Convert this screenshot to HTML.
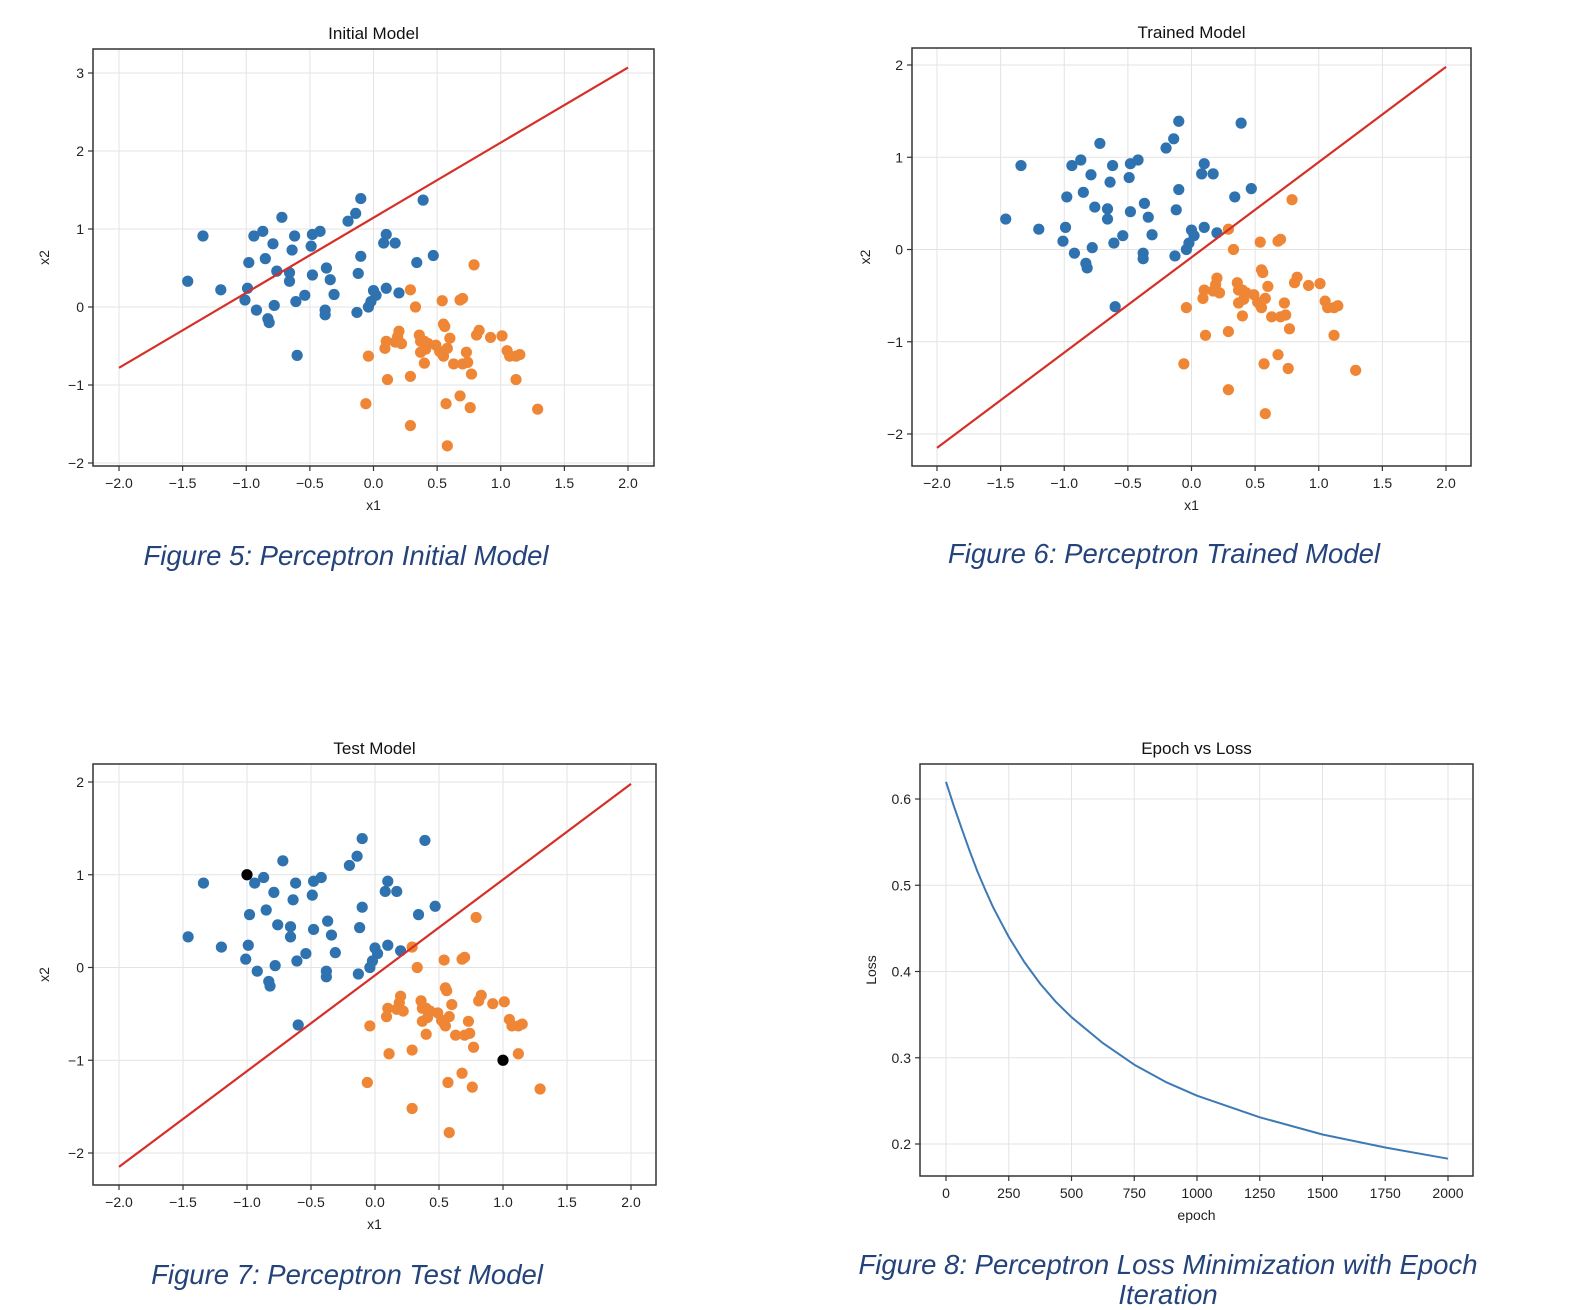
<!DOCTYPE html>
<html><head><meta charset="utf-8"><style>
body{margin:0;background:#fff;width:1592px;height:1310px;overflow:hidden;font-family:"Liberation Sans","DejaVu Sans",sans-serif}
svg{position:absolute;left:0;top:0}
.cap{position:absolute;font-style:italic;color:#24437a;font-size:27.5px;text-align:center;line-height:30px}
</style></head><body>
<svg id="chart" width="1592" height="1310"></svg>
<div class="cap" style="left:46px;width:600px;top:541px">Figure 5: Perceptron Initial Model</div>
<div class="cap" style="left:864px;width:600px;top:539px">Figure 6: Perceptron Trained Model</div>
<div class="cap" style="left:47px;width:600px;top:1260px">Figure 7: Perceptron Test Model</div>
<div class="cap" style="left:768px;width:800px;top:1250px">Figure 8: Perceptron Loss Minimization with Epoch<br>Iteration</div>
<script>
const blueX=[-1.46,-1.34,-1.20,-1.01,-0.99,-0.98,-0.94,-0.87,-0.92,-0.85,-0.79,-0.83,-0.82,-0.78,-0.76,-0.72,-0.66,-0.66,-0.62,-0.64,-0.61,-0.60,-0.54,-0.49,-0.48,-0.42,-0.48,-0.37,-0.34,-0.38,-0.38,-0.31,-0.20,-0.14,-0.10,-0.10,-0.12,-0.13,-0.04,-0.02,0.00,0.02,0.08,0.10,0.17,0.10,0.20,0.34,0.39,0.47];
const blueY=[0.33,0.91,0.22,0.09,0.24,0.57,0.91,0.97,-0.04,0.62,0.81,-0.15,-0.20,0.02,0.46,1.15,0.33,0.44,0.91,0.73,0.07,-0.62,0.15,0.78,0.93,0.97,0.41,0.50,0.35,-0.04,-0.10,0.16,1.10,1.20,1.39,0.65,0.43,-0.07,0.00,0.07,0.21,0.15,0.82,0.93,0.82,0.24,0.18,0.57,1.37,0.66];
const orangeX=[0.29,0.33,0.79,0.54,0.68,0.70,0.55,0.56,-0.04,-0.06,0.10,0.09,0.19,0.20,0.22,0.17,0.11,0.29,0.29,0.36,0.37,0.40,0.43,0.37,0.41,0.40,0.49,0.52,0.54,0.58,0.55,0.60,0.63,0.70,0.74,0.73,0.77,0.83,0.81,0.92,1.01,1.05,1.07,1.12,1.15,1.12,0.57,0.68,0.76,1.29,0.58];
const orangeY=[0.22,0.00,0.54,0.08,0.09,0.11,-0.22,-0.25,-0.63,-1.24,-0.44,-0.53,-0.38,-0.31,-0.47,-0.45,-0.93,-0.89,-1.52,-0.36,-0.44,-0.44,-0.47,-0.58,-0.54,-0.72,-0.49,-0.57,-0.60,-0.53,-0.63,-0.40,-0.73,-0.73,-0.71,-0.58,-0.86,-0.30,-0.36,-0.39,-0.37,-0.56,-0.63,-0.63,-0.61,-0.93,-1.24,-1.14,-1.29,-1.31,-1.78];
const testX=[-1,1];
const testY=[1,-1];
const lineInitial=[[-2,-0.78],[2,3.07]];
const lineTrained=[[-2,-2.15],[2,1.98]];
const xTicks=[-2,-1.5,-1,-0.5,0,0.5,1,1.5,2];
const yTicks1=[-2,-1,0,1,2,3];
const yTicks2=[-2,-1,0,1,2];
const epochs=[0,31,62,94,125,156,187,219,250,312,375,437,500,625,750,875,1000,1250,1500,1750,2000];
const losses=[0.620,0.592,0.566,0.540,0.516,0.495,0.475,0.457,0.440,0.411,0.386,0.365,0.347,0.317,0.292,0.272,0.256,0.231,0.211,0.196,0.183];
const epochTicks=[0,250,500,750,1000,1250,1500,1750,2000];
const lossTicks=[0.2,0.3,0.4,0.5,0.6];

const NS='http://www.w3.org/2000/svg';
const svg=document.getElementById('chart');
function mk(tag,attrs,parent,text){const e=document.createElementNS(NS,tag);for(const k in attrs)e.setAttribute(k,attrs[k]);if(text!==undefined)e.textContent=text;(parent||svg).appendChild(e);return e;}
function fmt(v,d){const s=v.toFixed(d);return v<0?'\u2212'+s.slice(1):s;}

function axes(cfg){
  const g=mk('g',{});
  
  
  const sx=v=>cfg.px0+(v-cfg.vx0)*(cfg.px1-cfg.px0)/(cfg.vx1-cfg.vx0);
  const sy=v=>cfg.py0+(v-cfg.vy0)*(cfg.py1-cfg.py0)/(cfg.vy1-cfg.vy0);
  const B=cfg.box;
  cfg.xt.forEach(t=>{const x=sx(t);
    const l=mk('line',{x1:x,x2:x,y1:B[1],y2:B[3],stroke:'#e3e3e3','stroke-width':1},g);
    
    mk('line',{x1:x,x2:x,y1:B[3],y2:B[3]+5,stroke:'#333','stroke-width':1.2},g);
    const tx=mk('text',{x:x,y:B[3]+22,'text-anchor':'middle','font-size':14,fill:'#222'},g,cfg.xf(t));
    });
  cfg.yt.forEach(t=>{const y=sy(t);
    const l=mk('line',{x1:B[0],x2:B[2],y1:y,y2:y,stroke:'#e3e3e3','stroke-width':1},g);
    
    mk('line',{x1:B[0]-5,x2:B[0],y1:y,y2:y,stroke:'#333','stroke-width':1.2},g);
    const tx=mk('text',{x:B[0]-9,y:y+5,'text-anchor':'end','font-size':14,fill:'#222'},g,cfg.yf(t));
    });
  const fr=mk('rect',{x:B[0],y:B[1],width:B[2]-B[0],height:B[3]-B[1],fill:'none',stroke:'#333','stroke-width':1.5},g);
  
  const ti=mk('text',{x:(B[0]+B[2])/2,y:B[1]-10,'text-anchor':'middle','font-size':17,fill:'#111'},g,cfg.title);
  
  const xl=mk('text',{x:(B[0]+B[2])/2,y:B[3]+44,'text-anchor':'middle','font-size':14,fill:'#222'},g,cfg.xl);
  
  const yx=cfg.ylx, yy=(B[1]+B[3])/2;
  const yl=mk('text',{x:yx,y:yy,'text-anchor':'middle','font-size':14,fill:'#222',transform:`rotate(-90 ${yx} ${yy})`},g,cfg.yl);
  
  return {g,sx,sy};
}
function scatterPlot(cfg,line,test){
  const a=axes(cfg);
  blueX.forEach((v,i)=>{const c=mk('circle',{cx:a.sx(v),cy:a.sy(blueY[i]),r:5.6,fill:'#2f72b0'},a.g);
    });
  orangeX.forEach((v,i)=>{const c=mk('circle',{cx:a.sx(v),cy:a.sy(orangeY[i]),r:5.6,fill:'#ef8636'},a.g);
    });
  const l=mk('line',{x1:a.sx(line[0][0]),y1:a.sy(line[0][1]),x2:a.sx(line[1][0]),y2:a.sy(line[1][1]),stroke:'#d62f28','stroke-width':2.2},a.g);
  
  if(test) testX.forEach((v,i)=>{const c=mk('circle',{cx:a.sx(v),cy:a.sy(testY[i]),r:5.6,fill:'#000'},a.g);
    });
}
const f1=v=>fmt(v,1), f0=v=>fmt(v,0);
scatterPlot({name:'initial-model-chart',box:[93,49,654,466],px0:119,px1:628,vx0:-2,vx1:2,py0:73,py1:463,vy0:3,vy1:-2,xt:xTicks,yt:yTicks1,xf:f1,yf:f0,title:'Initial Model',xl:'x1',yl:'x2',ylx:49},lineInitial,false);
scatterPlot({name:'trained-model-chart',box:[912,48,1471,466],px0:937,px1:1446,vx0:-2,vx1:2,py0:65,py1:434,vy0:2,vy1:-2,xt:xTicks,yt:yTicks2,xf:f1,yf:f0,title:'Trained Model',xl:'x1',yl:'x2',ylx:870},lineTrained,false);
scatterPlot({name:'test-model-chart',box:[93,764,656,1185],px0:119,px1:631,vx0:-2,vx1:2,py0:782,py1:1153,vy0:2,vy1:-2,xt:xTicks,yt:yTicks2,xf:f1,yf:f0,title:'Test Model',xl:'x1',yl:'x2',ylx:49},lineTrained,true);
(function(){
  const a=axes({name:'epoch-loss-chart',box:[920,764,1473,1176],px0:946,px1:1448,vx0:0,vx1:2000,py0:799,py1:1144,vy0:0.6,vy1:0.2,xt:epochTicks,yt:lossTicks,xf:v=>String(v),yf:v=>v.toFixed(1),title:'Epoch vs Loss',xl:'epoch',yl:'Loss',ylx:876});
  const d=epochs.map((e,i)=>(i?'L':'M')+a.sx(e).toFixed(1)+','+a.sy(losses[i]).toFixed(1)).join(' ');
  const p=mk('path',{d:d,fill:'none',stroke:'#3d7ab5','stroke-width':2,'stroke-linejoin':'round'},a.g);
  
})();
</script>
</body></html>
